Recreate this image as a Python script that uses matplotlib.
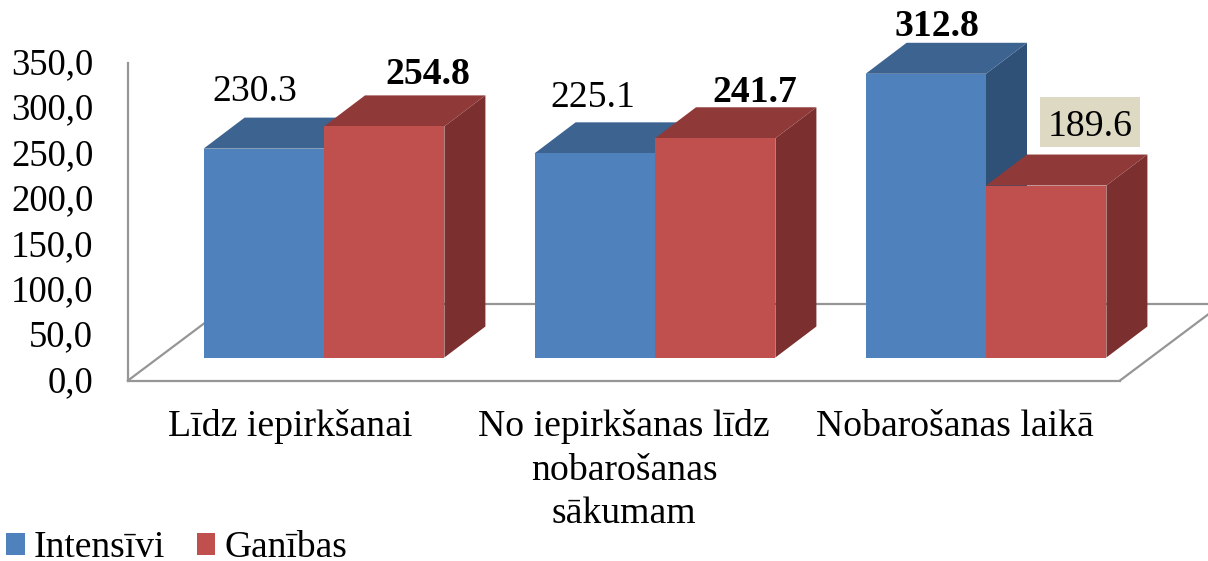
import matplotlib
matplotlib.use('Agg')
import matplotlib.pyplot as plt
from matplotlib.patches import Polygon, Patch, Rectangle
from matplotlib.transforms import ScaledTranslation

# dati
categories = ['Līdz iepirkšanai', 'No iepirkšanas līdz\nnobarošanas\nsākumam', 'Nobarošanas laikā']
series_names = ['Intensīvi', 'Ganības']
intensivi = [230.3, 225.1, 312.8]
ganibas = [254.8, 241.7, 189.6]
y_ticks = [0, 50, 100, 150, 200, 250, 300, 350]
y_tick_labels = ['0,0', '50,0', '100,0', '150,0', '200,0', '250,0', '300,0', '350,0']

# izkartojums, pikseli
W, H = 1208, 561
PX_X = 331         # viena kategorija
PX_Y = 0.907       # viena vieniba
BASE_Y = 357.5
FIRST_X = 324
BAR_W = 120.4 / PX_X
DEPTH_X = 41 / PX_X
DEPTH_Y = 31 / PX_Y
FS = 27.2

blue = ['#4F81BD', '#3D6390', '#2F5077']
red = ['#C0504D', '#8F3A38', '#7B2F2E']
grid_col = '#969696'

# teksta nobides no stabina augsas vidus
offs_int = [(-9, 57), (-2, 56), (11, 47)]
offs_gan = [(44, 52), (40, 46), (44, 59)]
offs_cat = [-33.5, -31, -31.5]
bold_int = [False, False, True]
bold_gan = [True, True, False]

plt.rcParams['font.family'] = ['Liberation Serif', 'DejaVu Serif']
fig = plt.figure(figsize=(W / 100, H / 100), dpi=100)

# vertibu ass
ax2 = fig.add_axes([128 / W, 1 - 380.5 / H, (1120 - 128) / W, 0.907 * 350 / H])
ax2.set_ylim(0, 350)
ax2.set_xlim(0, 1)
ax2.set_xticks([])
ax2.set_yticks(y_ticks)
ax2.set_yticklabels(y_tick_labels, fontsize=26.5)
ax2.tick_params(axis='y', length=0, pad=25)
for lab in ax2.get_yticklabels():
    lab.set_transform(lab.get_transform() + ScaledTranslation(0, 2 / 100, fig.dpi_scale_trans))
ax2.patch.set_visible(False)
ax2.spines['top'].set_visible(False)
ax2.spines['right'].set_visible(False)
for s in ['left', 'bottom']:
    ax2.spines[s].set_color(grid_col)
    ax2.spines[s].set_linewidth(1.6)

# stabini
ax = fig.add_axes([0, 0, 1, 1])
ax.set_xlim(-FIRST_X / PX_X, (W - FIRST_X) / PX_X)
ax.set_ylim(-(H - BASE_Y) / PX_Y, BASE_Y / PX_Y)
ax.set_axis_off()

# gridas (grida) linijas
floor_y = -23 / PX_Y
back_y = 53.5 / PX_Y
left_x = -196 / PX_X
right_x = 796 / PX_X
run = (back_y - floor_y) * PX_Y / 0.75 / PX_X
ax.plot([left_x, left_x + run], [floor_y, back_y], color=grid_col, lw=1.6, zorder=1)
ax.plot([right_x, right_x + run], [floor_y, back_y], color=grid_col, lw=1.6, zorder=1)
ax.plot([left_x + run, right_x + run], [back_y, back_y], color=grid_col, lw=1.6, zorder=1)


def draw_bar(x0, val, cols, z):
    x1 = x0 + BAR_W
    ax.add_patch(Polygon([(x1, 0), (x1 + DEPTH_X, DEPTH_Y), (x1 + DEPTH_X, val + DEPTH_Y), (x1, val)],
                         facecolor=cols[2], edgecolor='none', zorder=z))
    ax.add_patch(Polygon([(x0, val), (x0 + DEPTH_X, val + DEPTH_Y), (x1 + DEPTH_X, val + DEPTH_Y), (x1, val)],
                         facecolor=cols[1], edgecolor='none', zorder=z))
    ax.add_patch(Polygon([(x0, 0), (x1, 0), (x1, val), (x0, val)],
                         facecolor=cols[0], edgecolor='none', zorder=z))


for i in range(len(categories)):
    draw_bar(i - BAR_W, intensivi[i], blue, 2 + i * 2)
    draw_bar(i, ganibas[i], red, 3 + i * 2)

    ax.annotate('%.1f' % intensivi[i], xy=(i - BAR_W / 2, intensivi[i]), xytext=offs_int[i],
                textcoords='offset pixels', ha='center', va='center', fontsize=FS, zorder=20,
                fontweight='bold' if bold_int[i] else 'normal')
    ax.annotate('%.1f' % ganibas[i], xy=(i + BAR_W / 2, ganibas[i]), xytext=offs_gan[i],
                textcoords='offset pixels', ha='center', va='center', fontsize=FS, zorder=20,
                fontweight='bold' if bold_gan[i] else 'normal')

    # kategoriju nosaukumi
    ax.text(i + offs_cat[i] / PX_X, floor_y - 29 / PX_Y, categories[i], ha='center', va='top',
            fontsize=FS, linespacing=1.33, zorder=20)

# fons pedejai vertibai
ax.add_patch(Rectangle((2 + 54 / PX_X, ganibas[2] + 39 / PX_Y), 100 / PX_X, 50 / PX_Y,
                       facecolor='#DDD9C3', edgecolor='none', zorder=19))

handles = [Patch(facecolor=blue[0], edgecolor='none'), Patch(facecolor=red[0], edgecolor='none')]
ax.legend(handles, series_names, loc='lower left', bbox_to_anchor=(4 / W, -6 / H), ncol=2, frameon=False,
          fontsize=27, handlelength=0.5, handleheight=0.5, handletextpad=0.25,
          columnspacing=0.83, borderaxespad=0, borderpad=0.05)

fig.savefig('out.png', dpi=100, facecolor='white')
plt.close()
